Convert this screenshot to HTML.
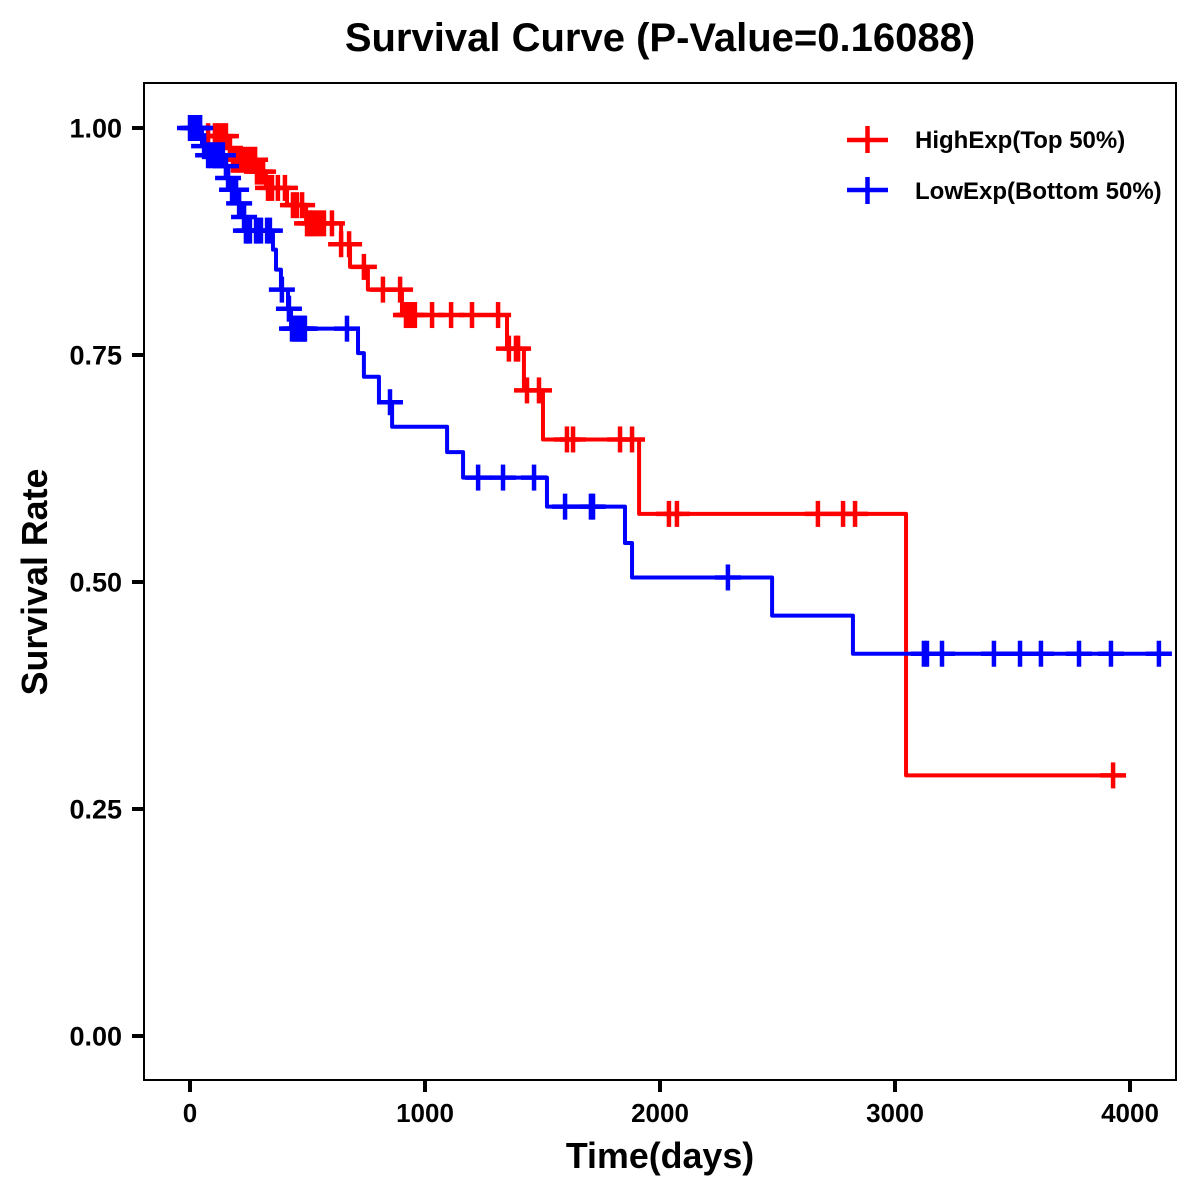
<!DOCTYPE html>
<html lang="en">
<head>
<meta charset="utf-8">
<title>Survival Curve</title>
<style>
html,body{margin:0;padding:0;background:#fff;width:1200px;height:1200px;overflow:hidden}
svg{display:block}
text{font-family:"Liberation Sans",Arial,sans-serif;font-weight:bold;fill:#000}
</style>
</head>
<body>
<svg id="chart" width="1200" height="1200" viewBox="0 0 1200 1200" xmlns="http://www.w3.org/2000/svg">
  <rect x="0" y="0" width="1200" height="1200" fill="#fff"/>
  <text x="660" y="51" font-size="40" text-anchor="middle">Survival Curve (P-Value=0.16088)</text>
  <text x="660" y="1168" font-size="35.8" text-anchor="middle">Time(days)</text>
  <text transform="translate(47,582) rotate(-90)" font-size="35.8" text-anchor="middle">Survival Rate</text>
  <g id="ticks"></g>
  <g id="series"></g>
  <rect x="144" y="83" width="1032" height="997" fill="none" stroke="#000" stroke-width="2"/>
  <g>
    <g>
      <line x1="847" x2="888" y1="140" y2="140" stroke="#f00" stroke-width="4.5"/>
      <line x1="867.5" x2="867.5" y1="126" y2="153" stroke="#f00" stroke-width="4.5"/>
      <text x="915" y="148" font-size="24">HighExp(Top 50%)</text>
    </g>
    <g>
      <line x1="847" x2="888" y1="190" y2="190" stroke="#00f" stroke-width="4.5"/>
      <line x1="867.5" x2="867.5" y1="177" y2="204" stroke="#00f" stroke-width="4.5"/>
      <text x="915" y="199" font-size="24">LowExp(Bottom 50%)</text>
    </g>
  </g>
</svg>
<script>
const xTickValues = [0, 1000, 2000, 3000, 4000];
const xTickLabels = ['0', '1000', '2000', '3000', '4000'];
const yTickValues = [0, 0.25, 0.5, 0.75, 1];
const yTickLabels = ['0.00', '0.25', '0.50', '0.75', '1.00'];

const highStepDays = [30, 162, 179, 281, 323, 413, 494, 643, 681, 757, 902, 1349, 1421, 1502, 1911, 3047];
const highStepSurvival = [0.991, 0.978, 0.965, 0.952, 0.934, 0.915, 0.895, 0.872, 0.847, 0.822, 0.794, 0.757, 0.711, 0.657, 0.575, 0.287];
const highCensorDays = [77, 106, 119, 136, 153, 170, 183, 200, 213, 230, 247, 264, 277, 285, 298, 311, 332, 349, 374, 404, 438, 455, 477, 498, 511, 523, 536, 553, 570, 604, 643, 677, 740, 821, 894, 919, 930, 941, 957, 1030, 1111, 1200, 1311, 1357, 1387, 1396, 1434, 1485, 1604, 1630, 1830, 1881, 2038, 2072, 2672, 2779, 2830, 3928];

const lowStepDays = [51, 72, 149, 157, 174, 200, 221, 234, 353, 366, 387, 417, 430, 715, 740, 804, 860, 1094, 1162, 1519, 1851, 1881, 2477, 2821];
const lowStepSurvival = [0.980, 0.970, 0.958, 0.945, 0.932, 0.917, 0.902, 0.887, 0.866, 0.844, 0.822, 0.801, 0.779, 0.752, 0.726, 0.698, 0.671, 0.643, 0.615, 0.583, 0.543, 0.505, 0.463, 0.421];
const lowCensorDays = [0, 13, 21, 30, 38, 43, 60, 77, 89, 102, 115, 128, 140, 153, 162, 179, 196, 209, 230, 238, 247, 255, 281, 289, 302, 328, 340, 391, 421, 434, 443, 451, 460, 468, 477, 485, 489, 668, 851, 1226, 1332, 1464, 1596, 1706, 1715, 2289, 3123, 3136, 3200, 3421, 3532, 3621, 3783, 3919, 4123];

const NS = 'http://www.w3.org/2000/svg';
const xScale = d => 190 + 0.235 * d;
const yScale = s => 1036 - 908 * s;
const MARK = 13;

function survivalAt(stepDays, stepSurvival, day) {
  let s = 1;
  for (let i = 0; i < stepDays.length; i++) {
    if (day >= stepDays[i]) s = stepSurvival[i];
  }
  return s;
}

function drawLine(parent, x1, y1, x2, y2, color, width) {
  const l = document.createElementNS(NS, 'line');
  l.setAttribute('x1', x1);
  l.setAttribute('y1', y1);
  l.setAttribute('x2', x2);
  l.setAttribute('y2', y2);
  l.setAttribute('stroke', color);
  l.setAttribute('stroke-width', width);
  parent.appendChild(l);
  return l;
}

function drawLabel(parent, x, y, str, anchor, size) {
  const t = document.createElementNS(NS, 'text');
  t.setAttribute('x', x);
  t.setAttribute('y', y);
  t.setAttribute('font-size', size);
  t.setAttribute('text-anchor', anchor);
  t.textContent = str;
  parent.appendChild(t);
  return t;
}

const tickGroup = document.getElementById('ticks');
xTickValues.forEach((v, i) => {
  const tick = drawLine(tickGroup, xScale(v), 1080, xScale(v), 1092, '#000', 4);
  
  
  const label = drawLabel(tickGroup, xScale(v), 1122, xTickLabels[i], 'middle', 26);
  
  
});
yTickValues.forEach((v, i) => {
  const tick = drawLine(tickGroup, 132, yScale(v), 144, yScale(v), '#000', 4);
  
  
  const label = drawLabel(tickGroup, 122, yScale(v) + 9.5, yTickLabels[i], 'end', 27);
  
  
});

function drawSeries(stepDays, stepSurvival, censorDays, color, seriesName) {
  const group = document.createElementNS(NS, 'g');
  
  
  document.getElementById('series').appendChild(group);

  let d = 'M' + xScale(0) + ' ' + yScale(1);
  stepDays.forEach((day, i) => {
    d += 'H' + xScale(day) + 'V' + yScale(stepSurvival[i]);
  });
  d += 'H' + xScale(Math.max(...censorDays));
  const path = document.createElementNS(NS, 'path');
  path.setAttribute('d', d);
  path.setAttribute('fill', 'none');
  path.setAttribute('stroke', color);
  path.setAttribute('stroke-width', '4');
  path.setAttribute('stroke-linejoin', 'round');
  
  
  group.appendChild(path);

  censorDays.forEach(day => {
    const cx = xScale(day);
    const cy = yScale(survivalAt(stepDays, stepSurvival, day));
    const v = drawLine(group, cx, cy - MARK, cx, cy + MARK, color, 4.5);
    
    
    const h = drawLine(group, cx - MARK, cy, cx + MARK, cy, color, 4.5);
    
    
  });
}

drawSeries(highStepDays, highStepSurvival, highCensorDays, '#f00', 'series-high-exp');
drawSeries(lowStepDays, lowStepSurvival, lowCensorDays, '#00f', 'series-low-exp');
</script>
</body>
</html>
